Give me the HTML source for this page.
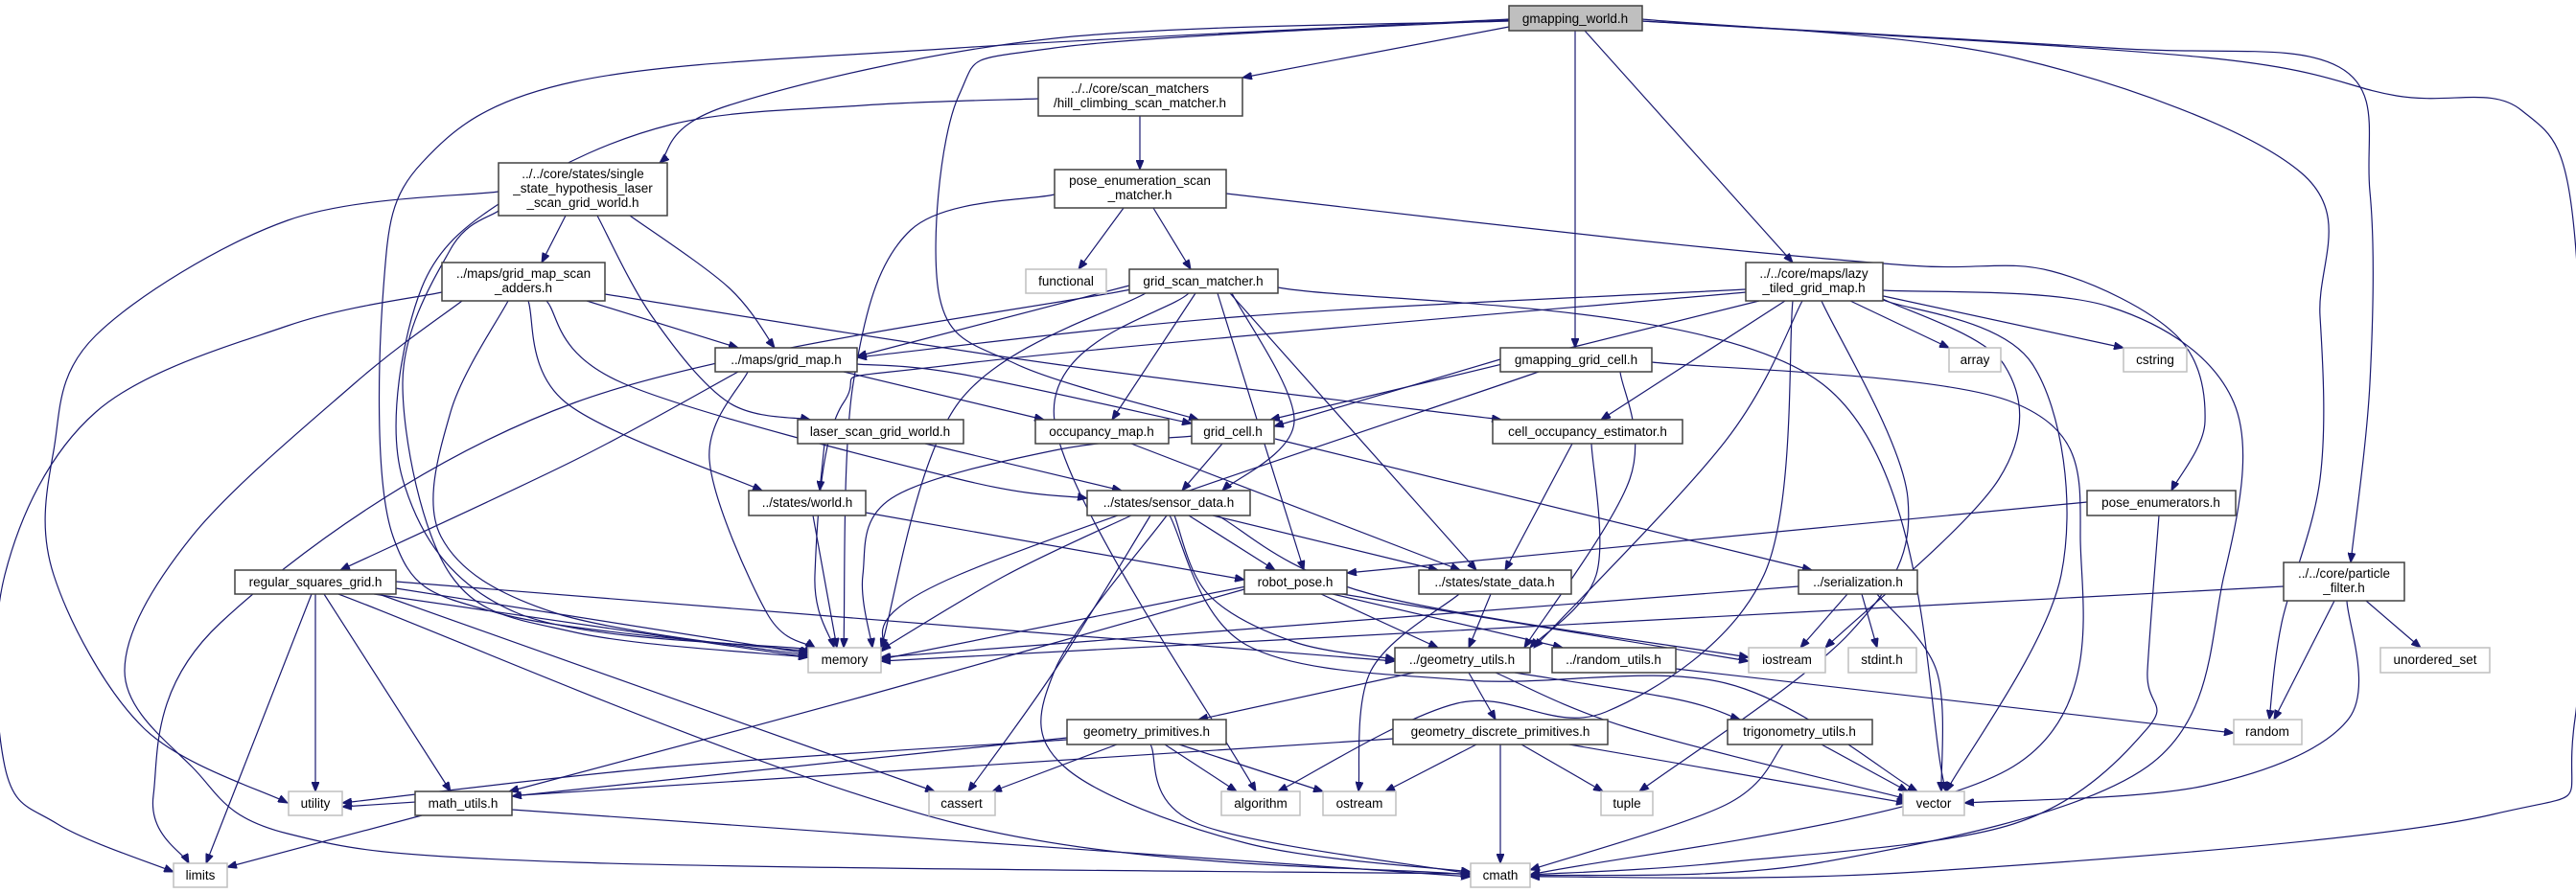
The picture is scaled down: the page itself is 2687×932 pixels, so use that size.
<!DOCTYPE html>
<html><head><meta charset="utf-8">
<style>
html,body{margin:0;padding:0;background:#fff;}
svg{display:block;}
text{font-family:"Liberation Sans",sans-serif;font-size:13.5px;fill:#000;text-anchor:middle;}
.n{fill:#fff;stroke:#404040;stroke-width:1.5;}
.l{fill:#fff;stroke:#bfbfbf;stroke-width:1.5;}
.r{fill:#bfbfbf;stroke:#404040;stroke-width:1.5;}
#edges path{fill:none;stroke:#191970;stroke-width:1.2;}
</style></head>
<body>
<svg id="svg" width="2687" height="932" viewBox="0 0 2687 932" xmlns="http://www.w3.org/2000/svg">
<defs><marker id="ah" markerWidth="11" markerHeight="8" refX="10" refY="4" orient="auto" markerUnits="userSpaceOnUse"><path d="M0,0 L10,4 L0,8 z" fill="#191970" stroke="#191970"/></marker></defs>
<g id="edges"></g>
<g id="nodes">
<rect class="r" x="1574" y="6" width="139" height="26"/><text x="1643" y="24">gmapping_world.h</text>
<rect class="n" x="1083" y="81" width="213" height="40"/><text x="1189" y="97">../../core/scan_matchers</text><text x="1189" y="112">/hill_climbing_scan_matcher.h</text>
<rect class="n" x="520" y="170" width="176" height="55"/><text x="608" y="186">../../core/states/single</text><text x="608" y="201">_state_hypothesis_laser</text><text x="608" y="216">_scan_grid_world.h</text>
<rect class="n" x="1100" y="177" width="179" height="40"/><text x="1189" y="193">pose_enumeration_scan</text><text x="1189" y="208">_matcher.h</text>
<rect class="n" x="461" y="274" width="170" height="40"/><text x="546" y="290">../maps/grid_map_scan</text><text x="546" y="305">_adders.h</text>
<rect class="l" x="1070" y="281" width="84" height="25"/><text x="1112" y="298">functional</text>
<rect class="n" x="1178" y="281" width="155" height="25"/><text x="1255" y="298">grid_scan_matcher.h</text>
<rect class="n" x="1821" y="274" width="143" height="40"/><text x="1892" y="290">../../core/maps/lazy</text><text x="1892" y="305">_tiled_grid_map.h</text>
<rect class="n" x="746" y="363" width="148" height="25"/><text x="820" y="380">../maps/grid_map.h</text>
<rect class="n" x="1565" y="363" width="158" height="25"/><text x="1644" y="380">gmapping_grid_cell.h</text>
<rect class="l" x="2033" y="363" width="54" height="25"/><text x="2060" y="380">array</text>
<rect class="l" x="2215" y="363" width="66" height="25"/><text x="2248" y="380">cstring</text>
<rect class="n" x="832" y="438" width="173" height="25"/><text x="918" y="455">laser_scan_grid_world.h</text>
<rect class="n" x="1080" y="438" width="139" height="25"/><text x="1149" y="455">occupancy_map.h</text>
<rect class="n" x="1243" y="438" width="86" height="25"/><text x="1286" y="455">grid_cell.h</text>
<rect class="n" x="1557" y="438" width="198" height="25"/><text x="1656" y="455">cell_occupancy_estimator.h</text>
<rect class="n" x="781" y="512" width="122" height="26"/><text x="842" y="529">../states/world.h</text>
<rect class="n" x="1134" y="512" width="170" height="26"/><text x="1219" y="529">../states/sensor_data.h</text>
<rect class="n" x="2177" y="512" width="155" height="26"/><text x="2254" y="529">pose_enumerators.h</text>
<rect class="n" x="245" y="595" width="168" height="25"/><text x="329" y="612">regular_squares_grid.h</text>
<rect class="n" x="1298" y="595" width="107" height="25"/><text x="1351" y="612">robot_pose.h</text>
<rect class="n" x="1480" y="595" width="159" height="25"/><text x="1559" y="612">../states/state_data.h</text>
<rect class="n" x="1876" y="595" width="124" height="25"/><text x="1938" y="612">../serialization.h</text>
<rect class="n" x="2382" y="587" width="126" height="40"/><text x="2445" y="603">../../core/particle</text><text x="2445" y="618">_filter.h</text>
<rect class="l" x="843" y="676" width="76" height="26"/><text x="881" y="693">memory</text>
<rect class="n" x="1455" y="676" width="141" height="26"/><text x="1525" y="693">../geometry_utils.h</text>
<rect class="n" x="1619" y="676" width="129" height="26"/><text x="1683" y="693">../random_utils.h</text>
<rect class="l" x="1824" y="676" width="80" height="26"/><text x="1864" y="693">iostream</text>
<rect class="l" x="1928" y="676" width="71" height="26"/><text x="1963" y="693">stdint.h</text>
<rect class="l" x="2483" y="676" width="114" height="26"/><text x="2540" y="693">unordered_set</text>
<rect class="n" x="1113" y="751" width="166" height="26"/><text x="1196" y="768">geometry_primitives.h</text>
<rect class="n" x="1453" y="751" width="224" height="26"/><text x="1565" y="768">geometry_discrete_primitives.h</text>
<rect class="n" x="1802" y="751" width="151" height="26"/><text x="1877" y="768">trigonometry_utils.h</text>
<rect class="l" x="2330" y="751" width="71" height="26"/><text x="2365" y="768">random</text>
<rect class="l" x="301" y="826" width="56" height="25"/><text x="329" y="843">utility</text>
<rect class="n" x="433" y="826" width="101" height="25"/><text x="483" y="843">math_utils.h</text>
<rect class="l" x="969" y="826" width="69" height="25"/><text x="1003" y="843">cassert</text>
<rect class="l" x="1274" y="826" width="82" height="25"/><text x="1315" y="843">algorithm</text>
<rect class="l" x="1380" y="826" width="76" height="25"/><text x="1418" y="843">ostream</text>
<rect class="l" x="1670" y="826" width="54" height="25"/><text x="1697" y="843">tuple</text>
<rect class="l" x="1985" y="826" width="64" height="25"/><text x="2017" y="843">vector</text>
<rect class="l" x="181" y="901" width="56" height="25"/><text x="209" y="918">limits</text>
<rect class="l" x="1534" y="901" width="62" height="25"/><text x="1565" y="918">cmath</text>
</g>
</svg>
<script>
var E=[
[1574,28,1296,81],
[1574,22,1100,40,760,110,688,170],
[1574,20,1000,50,600,85,440,170,400,300,410,560,520,640,845,680],
[1574,21,1100,50,1000,100,980,310,1060,380,1250,438],
[1643,32,1643,363],
[1653,32,1870,274],
[1713,20,2100,60,2400,180,2420,330,2420,500,2380,650,2367,751],
[1713,22,2200,50,2440,70,2472,200,2472,400,2452,587],
[1713,22,2300,60,2500,100,2630,115,2686,250,2686,750,2600,850,2000,910,1596,915],
[1189,121,1189,177],
[1083,103,900,110,700,130,540,200,440,300,420,500,540,640,850,678],
[520,200,300,230,100,350,56,470,56,600,150,760,300,838],
[520,220,470,260,420,400,470,600,600,660,843,686],
[590,225,565,274],
[623,225,680,330,760,420,845,438],
[657,225,760,300,808,363],
[461,305,300,340,100,430,5,600,5,800,60,860,181,910],
[482,314,370,400,200,560,130,700,200,800,300,870,600,900,1534,912],
[530,314,470,430,460,560,580,640,843,684],
[551,314,590,420,795,512],
[570,314,650,400,1000,500,1134,520],
[612,314,770,363],
[631,307,1100,380,1566,438],
[770,388,600,480,355,595],
[780,388,740,480,800,640,850,676],
[880,388,1089,438],
[894,380,1000,390,1243,442],
[860,463,855,512],
[965,463,1170,512],
[1180,463,1523,595],
[1275,463,1233,512],
[1330,458,1890,595],
[1245,455,1100,470,930,520,900,600,910,676],
[848,538,873,676],
[903,535,1298,605],
[1180,538,1050,600,919,678],
[1240,538,1330,595],
[1265,538,1500,595],
[1225,538,1260,620,1350,670,1455,688],
[1200,538,1100,700,1010,826],
[1217,538,1100,700,1110,800,1300,880,1534,910],
[1220,538,1300,673,1531,710,1800,713,2000,826],
[1270,538,1430,620,1824,686],
[1300,612,919,688],
[1298,615,900,727,531,826],
[1378,620,1500,676],
[1390,620,1630,676],
[1400,620,1824,690],
[1522,620,1430,700,1417,826],
[1555,620,1532,676],
[1475,702,1250,751],
[1532,702,1560,751],
[1580,702,1750,730,1815,751],
[1560,702,1700,760,1990,834],
[1748,698,2330,765],
[1113,772,700,800,357,838],
[1113,770,534,831],
[1165,777,1035,826],
[1215,777,1290,826],
[1230,777,1380,826],
[1200,777,1250,860,1534,912],
[1453,771,357,842],
[1540,777,1445,826],
[1565,777,1565,901],
[1587,777,1672,826],
[1637,777,1988,838],
[1870,314,1840,600,1675,743,1520,734,1333,826],
[1900,777,1990,826],
[1860,777,1800,840,1596,908],
[440,851,237,905],
[534,845,1534,915],
[329,620,329,826],
[325,620,215,901],
[338,620,470,826],
[353,620,1000,860,1534,913],
[390,620,843,686],
[413,614,843,682],
[413,607,1455,690],
[395,620,975,826],
[1927,620,1878,676],
[1942,620,1958,676],
[1958,620,2020,700,2025,826],
[1876,612,919,686],
[2177,524,1405,598],
[2252,538,2240,700,2240,760,2100,860,1800,900,1596,913],
[2382,612,919,690],
[2468,627,2525,676],
[2435,627,2372,751],
[2448,627,2450,750,2300,820,2049,838],
[1821,302,1300,330,894,373],
[1821,305,1000,380,880,420,850,600,870,676],
[1835,314,1650,360,1325,438],
[1862,314,1670,438],
[1930,314,2033,363],
[1960,308,2215,363],
[1880,314,1800,460,1600,676],
[1964,312,2090,380,2085,500,1904,676],
[1900,314,1990,520,1930,660,1710,826],
[1964,313,2120,380,2150,600,2030,826],
[1964,303,2200,320,2330,420,2320,600,2240,800,1900,900,1596,914],
[1565,375,1329,445],
[1605,388,1000,600,919,680],
[1690,388,1700,500,1590,676],
[1723,378,2100,420,2170,560,2100,800,1596,913],
[1640,463,1570,595],
[1660,463,1665,600,1596,676],
[1178,298,894,372],
[1195,306,1000,420,919,676],
[1180,302,600,420,230,650,160,830,197,901],
[1247,306,1160,438],
[1270,306,1360,595],
[1283,306,1540,595],
[1333,300,1900,400,2030,826],
[1285,306,1350,440,1275,512],
[1240,306,1100,440,1310,826],
[1172,217,1125,281],
[1203,217,1242,281],
[1100,203,950,240,890,400,880,676],
[1279,202,1700,250,1990,277,2140,283,2270,350,2300,440,2265,512]
];
var g=document.getElementById('edges'),ns='http://www.w3.org/2000/svg';
E.forEach(function(a){
 var p=[];for(var i=0;i<a.length;i+=2)p.push([a[i],a[i+1]]);
 var d='M'+p[0][0]+','+p[0][1];
 if(p.length==2){d+=' L'+p[1][0]+','+p[1][1];}
 else{
  for(var i=0;i<p.length-1;i++){
   var p0=p[i-1]||p[i],p1=p[i],p2=p[i+1],p3=p[i+2]||p2;
   var c1=[p1[0]+(p2[0]-p0[0])/6,p1[1]+(p2[1]-p0[1])/6];
   var c2=[p2[0]-(p3[0]-p1[0])/6,p2[1]-(p3[1]-p1[1])/6];
   d+=' C'+c1[0].toFixed(1)+','+c1[1].toFixed(1)+' '+c2[0].toFixed(1)+','+c2[1].toFixed(1)+' '+p2[0]+','+p2[1];
  }
 }
 var e=document.createElementNS(ns,'path');e.setAttribute('d',d);e.setAttribute('marker-end','url(#ah)');g.appendChild(e);
});
</script>
</body></html>
